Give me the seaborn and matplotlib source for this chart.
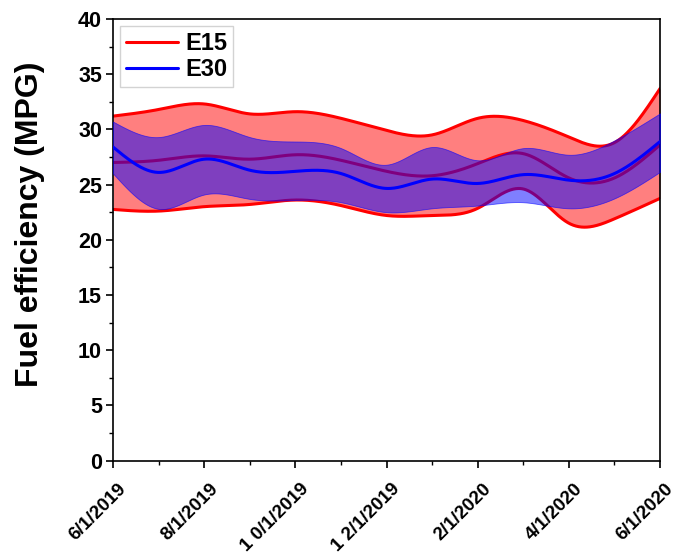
import numpy as np
import pandas as pd
import matplotlib
matplotlib.use("Agg")
import matplotlib.pyplot as plt
from matplotlib.ticker import MultipleLocator
from matplotlib.transforms import ScaledTranslation
import seaborn as sns

# Monthly fuel-efficiency statistics, June 2019 - June 2020
months = ["6/1/2019", "7/1/2019", "8/1/2019", "9/1/2019", "10/1/2019", "11/1/2019",
          "12/1/2019", "1/1/2020", "2/1/2020", "3/1/2020", "4/1/2020", "5/1/2020", "6/1/2020"]
tick_labels = ["6/1/2019", "8/1/2019", "1 0/1/2019", "1 2/1/2019", "2/1/2020", "4/1/2020", "6/1/2020"]

e15_mean = [27.0, 27.2, 27.6, 27.3, 27.7, 27.2, 26.2, 25.8, 26.9, 27.8, 25.6, 25.6, 28.6]
e15_upper = [31.2, 31.8, 32.3, 31.4, 31.6, 31.0, 29.9, 29.5, 31.0, 30.8, 29.3, 28.8, 33.7]
e15_lower = [22.75, 22.6, 23.0, 23.2, 23.6, 23.1, 22.2, 22.2, 22.85, 24.6, 21.5, 21.9, 23.75]

e30_mean = [28.4, 26.1, 27.3, 26.3, 26.2, 26.0, 24.65, 25.5, 25.1, 25.9, 25.4, 26.0, 28.9]
e30_upper = [30.7, 29.3, 30.4, 29.3, 28.9, 28.3, 26.8, 28.4, 27.2, 28.3, 27.7, 29.0, 31.45]
e30_lower = [26.0, 22.8, 24.1, 23.7, 23.6, 23.4, 22.5, 22.85, 23.1, 23.4, 22.85, 23.75, 26.15]


def natural_spline(x, y, xs):
    """Natural cubic spline through (x, y), evaluated at xs (spline line style)."""
    x = np.asarray(x, float)
    y = np.asarray(y, float)
    n = len(x)
    h = np.diff(x)
    A = np.zeros((n, n))
    b = np.zeros(n)
    A[0, 0] = A[-1, -1] = 1.0
    for i in range(1, n - 1):
        A[i, i - 1] = h[i - 1]
        A[i, i] = 2 * (h[i - 1] + h[i])
        A[i, i + 1] = h[i]
        b[i] = 6 * ((y[i + 1] - y[i]) / h[i] - (y[i] - y[i - 1]) / h[i - 1])
    M = np.linalg.solve(A, b)
    idx = np.clip(np.searchsorted(x, xs) - 1, 0, n - 2)
    x0, x1 = x[idx], x[idx + 1]
    hh = x1 - x0
    t0, t1 = x1 - xs, xs - x0
    return (M[idx] * t0 ** 3 / (6 * hh) + M[idx + 1] * t1 ** 3 / (6 * hh)
            + (y[idx] / hh - M[idx] * hh / 6) * t0
            + (y[idx + 1] / hh - M[idx + 1] * hh / 6) * t1)


sns.set_theme(style="ticks")
plt.rcParams["font.family"] = ["Liberation Sans", "DejaVu Sans"]
plt.rcParams["font.weight"] = "bold"
plt.rcParams["text.color"] = "black"
plt.rcParams["xtick.color"] = "black"
plt.rcParams["ytick.color"] = "black"
plt.rcParams["xtick.labelcolor"] = "black"
plt.rcParams["ytick.labelcolor"] = "black"

fig = plt.figure(figsize=(6.77, 5.57), dpi=100)
ax = fig.add_axes([0.167, 0.173, 0.808, 0.793])

xm = np.arange(len(months))
xs = np.linspace(0, len(months) - 1, 600)

smooth = pd.DataFrame({
    "x": np.concatenate([xs, xs]),
    "mpg": np.concatenate([natural_spline(xm, e15_mean, xs), natural_spline(xm, e30_mean, xs)]),
    "fuel": ["E15"] * len(xs) + ["E30"] * len(xs),
})

red = "#ff0000"
blue = "#0000ff"

# E15 band and its edges
ax.fill_between(xs, natural_spline(xm, e15_lower, xs), natural_spline(xm, e15_upper, xs),
                color=red, alpha=0.5, linewidth=0, zorder=1)
ax.plot(xs, natural_spline(xm, e15_upper, xs), color=red, lw=2.2, zorder=2)
ax.plot(xs, natural_spline(xm, e15_lower, xs), color=red, lw=2.2, zorder=2)
sns.lineplot(data=smooth[smooth.fuel == "E15"], x="x", y="mpg", color=red, lw=2.2,
             ax=ax, zorder=2, label="E15", legend=False)

# E30 band drawn over the E15 band
ax.fill_between(xs, natural_spline(xm, e30_lower, xs), natural_spline(xm, e30_upper, xs),
                facecolor=(0, 0, 1, 0.5), edgecolor=(0, 0, 1, 0.6), linewidth=0.6, zorder=3)
sns.lineplot(data=smooth[smooth.fuel == "E30"], x="x", y="mpg", color=blue, lw=2.2,
             ax=ax, zorder=4, label="E30", legend=False)

ax.set_xlim(0, len(months) - 1)
ax.set_ylim(0, 40)
ax.set_xticks(xm[::2])
ax.xaxis.set_minor_locator(MultipleLocator(1))
ax.yaxis.set_major_locator(MultipleLocator(5))
ax.yaxis.set_minor_locator(MultipleLocator(2.5))
ax.tick_params(axis="y", labelsize=15.5, width=1.2, length=5, pad=3)
ax.tick_params(axis="x", width=1.2, length=5, pad=4)
ax.tick_params(which="minor", width=1.0, length=3)
for lbl in ax.get_yticklabels():
    lbl.set_fontweight("bold")

ax.set_xticklabels(tick_labels, rotation=45, ha="right", va="center", rotation_mode="anchor",
                   fontsize=13.5, fontweight="bold", color="black")
# push the slanted date labels down and to the right of their ticks
shift = ScaledTranslation(11 / 100, -13 / 100, fig.dpi_scale_trans)
for tick in ax.xaxis.get_major_ticks():
    tick.label1.set_transform(tick.label1.get_transform() + shift)

ax.set_xlabel("")
ax.set_ylabel("")
fig.text(30 / 677, 1 - 224 / 557, "Fuel efficiency (MPG)", rotation=90,
         ha="center", va="center", fontsize=23, fontweight="bold", color="black")

for side in ["top", "right", "left", "bottom"]:
    ax.spines[side].set_visible(True)
    ax.spines[side].set_linewidth(1.2)
    ax.spines[side].set_color("black")

leg = ax.legend(loc="upper left", fontsize=17, frameon=True, fancybox=False,
                handlelength=2.2, handletextpad=0.3, borderaxespad=0.3,
                borderpad=0.25, labelspacing=0.15)
leg.get_frame().set_edgecolor("#c8c8c8")
leg.get_frame().set_linewidth(1.0)
for t in leg.get_texts():
    t.set_fontweight("bold")
    t.set_color("black")

fig.savefig("out.png", dpi=100)
